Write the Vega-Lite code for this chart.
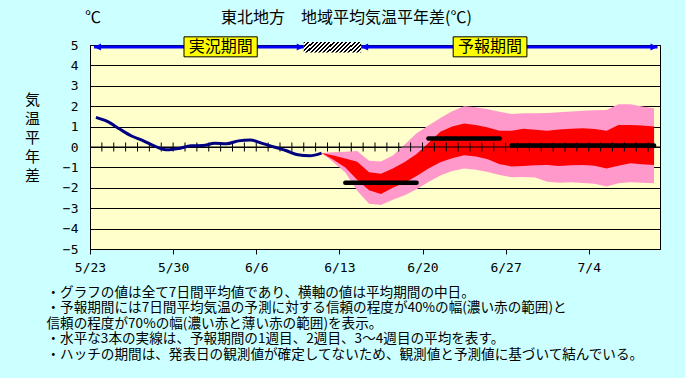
{
  "$schema": "https://vega.github.io/schema/vega-lite/v6.json",
  "width": 570,
  "height": 204,
  "autosize": {"type": "none"},
  "padding": {"left": 90, "top": 45, "right": 25, "bottom": 129},
  "background": "#CCFFFF",
  "title": {
    "text": "℃　　　　　　　\u2002東北地方　地域平均気温平年差(℃)",
    "anchor": "start",
    "frame": "group",
    "dx": -5,
    "offset": 10,
    "fontSize": 16,
    "fontWeight": "normal",
    "font": "Noto Sans CJK JP",
    "color": "#000000"
  },
  "config": {
    "font": "Noto Sans CJK JP",
    "view": {"fill": "#FFFFCC", "stroke": "#000000", "strokeWidth": 1},
    "axis": {
      "labelFont": "DejaVu Sans Mono",
      "titleFont": "Noto Sans CJK JP",
      "labelColor": "#000000",
      "titleColor": "#000000",
      "domainColor": "#000000",
      "tickColor": "#000000",
      "gridColor": "#000000",
      "gridOpacity": 1,
      "titleFontWeight": "normal",
      "labelOverlap": false
    }
  },
  "datasets": {
    "obs": [
      {"date": "2021-05-23T12:00:00Z", "value": 1.45},
      {"date": "2021-05-24T12:00:00Z", "value": 1.24},
      {"date": "2021-05-25T12:00:00Z", "value": 0.88},
      {"date": "2021-05-26T12:00:00Z", "value": 0.54},
      {"date": "2021-05-27T12:00:00Z", "value": 0.30},
      {"date": "2021-05-28T12:00:00Z", "value": 0.03},
      {"date": "2021-05-29T12:00:00Z", "value": -0.14},
      {"date": "2021-05-30T12:00:00Z", "value": -0.07},
      {"date": "2021-05-31T12:00:00Z", "value": 0.06},
      {"date": "2021-06-01T12:00:00Z", "value": 0.07},
      {"date": "2021-06-02T12:00:00Z", "value": 0.18},
      {"date": "2021-06-03T12:00:00Z", "value": 0.16},
      {"date": "2021-06-04T12:00:00Z", "value": 0.30},
      {"date": "2021-06-05T12:00:00Z", "value": 0.34},
      {"date": "2021-06-06T12:00:00Z", "value": 0.18},
      {"date": "2021-06-07T12:00:00Z", "value": 0.0},
      {"date": "2021-06-08T12:00:00Z", "value": -0.17},
      {"date": "2021-06-09T12:00:00Z", "value": -0.38},
      {"date": "2021-06-10T12:00:00Z", "value": -0.43},
      {"date": "2021-06-11T12:00:00Z", "value": -0.30}
    ],
    "band": [
      {"date": "2021-06-11T12:00:00Z", "pinkLow": -0.30, "redLow": -0.30, "redHigh": -0.30, "pinkHigh": -0.30},
      {"date": "2021-06-12T12:00:00Z", "pinkLow": -0.75, "redLow": -0.62, "redHigh": -0.42, "pinkHigh": -0.26},
      {"date": "2021-06-13T12:00:00Z", "pinkLow": -1.25, "redLow": -1.00, "redHigh": -0.56, "pinkHigh": -0.23},
      {"date": "2021-06-14T12:00:00Z", "pinkLow": -2.15, "redLow": -1.60, "redHigh": -0.72, "pinkHigh": -0.19},
      {"date": "2021-06-15T12:00:00Z", "pinkLow": -2.78, "redLow": -2.12, "redHigh": -1.24, "pinkHigh": -0.68},
      {"date": "2021-06-16T12:00:00Z", "pinkLow": -2.84, "redLow": -2.31, "redHigh": -1.31, "pinkHigh": -0.71},
      {"date": "2021-06-17T12:00:00Z", "pinkLow": -2.58, "redLow": -2.00, "redHigh": -1.05, "pinkHigh": -0.42},
      {"date": "2021-06-18T12:00:00Z", "pinkLow": -2.37, "redLow": -1.75, "redHigh": -0.73, "pinkHigh": 0.12},
      {"date": "2021-06-19T12:00:00Z", "pinkLow": -2.07, "redLow": -1.42, "redHigh": -0.34, "pinkHigh": 0.67},
      {"date": "2021-06-20T12:00:00Z", "pinkLow": -1.72, "redLow": -1.05, "redHigh": 0.20, "pinkHigh": 1.05},
      {"date": "2021-06-21T12:00:00Z", "pinkLow": -1.40, "redLow": -0.75, "redHigh": 0.75, "pinkHigh": 1.42},
      {"date": "2021-06-22T12:00:00Z", "pinkLow": -1.18, "redLow": -0.55, "redHigh": 1.00, "pinkHigh": 1.75},
      {"date": "2021-06-23T12:00:00Z", "pinkLow": -1.05, "redLow": -0.40, "redHigh": 1.15, "pinkHigh": 2.00},
      {"date": "2021-06-24T12:00:00Z", "pinkLow": -1.12, "redLow": -0.47, "redHigh": 1.08, "pinkHigh": 1.95},
      {"date": "2021-06-25T12:00:00Z", "pinkLow": -1.22, "redLow": -0.60, "redHigh": 0.95, "pinkHigh": 1.85},
      {"date": "2021-06-26T12:00:00Z", "pinkLow": -1.37, "redLow": -0.85, "redHigh": 0.80, "pinkHigh": 1.73},
      {"date": "2021-06-27T12:00:00Z", "pinkLow": -1.48, "redLow": -0.95, "redHigh": 0.80, "pinkHigh": 1.62},
      {"date": "2021-06-28T12:00:00Z", "pinkLow": -1.47, "redLow": -0.93, "redHigh": 0.90, "pinkHigh": 1.65},
      {"date": "2021-06-29T12:00:00Z", "pinkLow": -1.50, "redLow": -0.90, "redHigh": 0.85, "pinkHigh": 1.65},
      {"date": "2021-06-30T12:00:00Z", "pinkLow": -1.70, "redLow": -0.88, "redHigh": 0.80, "pinkHigh": 1.67},
      {"date": "2021-07-01T12:00:00Z", "pinkLow": -1.75, "redLow": -0.93, "redHigh": 0.86, "pinkHigh": 1.70},
      {"date": "2021-07-02T12:00:00Z", "pinkLow": -1.73, "redLow": -0.90, "redHigh": 0.90, "pinkHigh": 1.74},
      {"date": "2021-07-03T12:00:00Z", "pinkLow": -1.76, "redLow": -0.88, "redHigh": 0.92, "pinkHigh": 1.78},
      {"date": "2021-07-04T12:00:00Z", "pinkLow": -1.80, "redLow": -0.92, "redHigh": 0.88, "pinkHigh": 1.80},
      {"date": "2021-07-05T12:00:00Z", "pinkLow": -1.94, "redLow": -1.05, "redHigh": 0.80, "pinkHigh": 1.81},
      {"date": "2021-07-06T12:00:00Z", "pinkLow": -1.78, "redLow": -0.92, "redHigh": 1.08, "pinkHigh": 2.09},
      {"date": "2021-07-07T12:00:00Z", "pinkLow": -1.73, "redLow": -0.80, "redHigh": 1.08, "pinkHigh": 2.09},
      {"date": "2021-07-08T12:00:00Z", "pinkLow": -1.75, "redLow": -0.84, "redHigh": 1.05, "pinkHigh": 1.98},
      {"date": "2021-07-09T12:00:00Z", "pinkLow": -1.78, "redLow": -0.88, "redHigh": 1.00, "pinkHigh": 1.90}
    ],
    "weeks": [
      {"from": "2021-06-13T12:00:00Z", "to": "2021-06-19T12:00:00Z", "value": -1.75},
      {"from": "2021-06-20T12:00:00Z", "to": "2021-06-26T12:00:00Z", "value": 0.42},
      {"from": "2021-06-27T12:00:00Z", "to": "2021-07-09T12:00:00Z", "value": 0.07}
    ],
    "days": [
      {"date": "2021-05-24"}, {"date": "2021-05-25"}, {"date": "2021-05-26"}, {"date": "2021-05-27"},
      {"date": "2021-05-28"}, {"date": "2021-05-29"}, {"date": "2021-05-30"}, {"date": "2021-05-31"},
      {"date": "2021-06-01"}, {"date": "2021-06-02"}, {"date": "2021-06-03"}, {"date": "2021-06-04"},
      {"date": "2021-06-05"}, {"date": "2021-06-06"}, {"date": "2021-06-07"}, {"date": "2021-06-08"},
      {"date": "2021-06-09"}, {"date": "2021-06-10"}, {"date": "2021-06-11"}, {"date": "2021-06-12"},
      {"date": "2021-06-13"}, {"date": "2021-06-14"}, {"date": "2021-06-15"}, {"date": "2021-06-16"},
      {"date": "2021-06-17"}, {"date": "2021-06-18"}, {"date": "2021-06-19"}, {"date": "2021-06-20"},
      {"date": "2021-06-21"}, {"date": "2021-06-22"}, {"date": "2021-06-23"}, {"date": "2021-06-24"},
      {"date": "2021-06-25"}, {"date": "2021-06-26"}, {"date": "2021-06-27"}, {"date": "2021-06-28"},
      {"date": "2021-06-29"}, {"date": "2021-06-30"}, {"date": "2021-07-01"}, {"date": "2021-07-02"},
      {"date": "2021-07-03"}, {"date": "2021-07-04"}, {"date": "2021-07-05"}, {"date": "2021-07-06"},
      {"date": "2021-07-07"}, {"date": "2021-07-08"}, {"date": "2021-07-09"}
    ],
    "arrows": [
      {"from": "2021-05-23T08:00:00Z", "to": "2021-06-10T00:00:00Z"},
      {"from": "2021-06-14T20:00:00Z", "to": "2021-07-09T19:00:00Z"}
    ],
    "heads": [
      {"date": "2021-05-23T08:00:00Z", "dir": "left"},
      {"date": "2021-06-10T00:00:00Z", "dir": "right"},
      {"date": "2021-06-14T20:00:00Z", "dir": "left"},
      {"date": "2021-07-09T19:00:00Z", "dir": "right"}
    ],
    "hatch": [
      {"from": "2021-06-10T00:00:00Z", "to": "2021-06-14T20:00:00Z"}
    ],
    "periods": [
      {"label": "実況期間", "from": "2021-05-30T22:00:00Z", "to": "2021-06-06T02:00:00Z", "mid": "2021-06-03T00:00:00Z"},
      {"label": "予報期間", "from": "2021-06-22T14:00:00Z", "to": "2021-06-28T19:00:00Z", "mid": "2021-06-25T16:30:00Z"}
    ]
  },
  "layer": [
    {
      "data": {"name": "band"},
      "mark": {"type": "area", "color": "#FF99CC"},
      "encoding": {
        "x": {
          "field": "date",
          "type": "temporal",
          "scale": {
            "type": "utc",
            "nice": false,
            "domain": [
              {"year": 2021, "month": 5, "date": 23, "utc": true},
              {"year": 2021, "month": 7, "date": 10, "utc": true}
            ]
          },
          "axis": {
            "values": [
              {"year": 2021, "month": 5, "date": 23, "utc": true},
              {"year": 2021, "month": 5, "date": 30, "utc": true},
              {"year": 2021, "month": 6, "date": 6, "utc": true},
              {"year": 2021, "month": 6, "date": 13, "utc": true},
              {"year": 2021, "month": 6, "date": 20, "utc": true},
              {"year": 2021, "month": 6, "date": 27, "utc": true},
              {"year": 2021, "month": 7, "date": 4, "utc": true}
            ],
            "tickCount": 20,
            "format": "%-m/%-d",
            "grid": false,
            "tickSize": 5,
            "labelFontSize": 13,
            "labelPadding": 7,
            "labelDx": 5,
            "labelFlush": false,
            "title": [
              "・グラフの値は全て7日間平均値であり、横軸の値は平均期間の中日。",
              "・予報期間には7日間平均気温の予測に対する信頼の程度が40%の幅(濃い赤の範囲)と",
              "信頼の程度が70%の幅(濃い赤と薄い赤の範囲)を表示。",
              "・水平な3本の実線は、予報期間の1週目、2週目、3～4週目の平均を表す。",
              "・ハッチの期間は、発表日の観測値が確定してないため、観測値と予測値に基づいて結んでいる。"
            ],
            "titleFontSize": 13.6,
            "titleLineHeight": 15.5,
            "titleAlign": "left",
            "titleAnchor": "start",
            "titleBaseline": "top",
            "titleX": -44,
            "titleY": 36
          }
        },
        "y": {
          "field": "pinkLow",
          "type": "quantitative",
          "scale": {"domain": [-5, 5], "nice": false},
          "axis": {
            "values": [-5, -4, -3, -2, -1, 0, 1, 2, 3, 4, 5],
            "tickCount": 20,
            "format": "d",
            "grid": true,
            "ticks": false,
            "labelFontSize": 13,
            "labelPadding": 12,
            "labelOverlap": false,
            "title": ["気", "温", "平", "年", "差"],
            "titleAngle": 0,
            "titleFontSize": 15,
            "titleLineHeight": 19,
            "titleAlign": "center",
            "titleBaseline": "top",
            "titleX": -58,
            "titleY": 47
          }
        },
        "y2": {"field": "pinkHigh"}
      }
    },
    {
      "data": {"name": "band"},
      "mark": {"type": "area", "color": "#FF0000"},
      "encoding": {
        "x": {"field": "date", "type": "temporal"},
        "y": {"field": "redLow", "type": "quantitative"},
        "y2": {"field": "redHigh"}
      }
    },
    {
      "data": {"values": [{}]},
      "mark": {"type": "rule", "color": "#000000", "strokeWidth": 1},
      "encoding": {"y": {"datum": 0, "type": "quantitative"}}
    },
    {
      "data": {"name": "days"},
      "mark": {"type": "tick", "orient": "vertical", "size": 9, "thickness": 1, "color": "#000000", "opacity": 1},
      "encoding": {
        "x": {"field": "date", "type": "temporal"},
        "y": {"datum": 0, "type": "quantitative"}
      }
    },
    {
      "data": {"name": "obs"},
      "mark": {"type": "line", "color": "#000080", "strokeWidth": 3, "interpolate": "monotone"},
      "encoding": {
        "x": {"field": "date", "type": "temporal"},
        "y": {"field": "value", "type": "quantitative"}
      }
    },
    {
      "data": {"name": "weeks"},
      "mark": {"type": "rule", "color": "#000000", "strokeWidth": 4.5, "strokeCap": "round"},
      "encoding": {
        "x": {"field": "from", "type": "temporal"},
        "x2": {"field": "to"},
        "y": {"field": "value", "type": "quantitative"}
      }
    },
    {
      "data": {"name": "arrows"},
      "mark": {"type": "rule", "color": "#0000FF", "strokeWidth": 3},
      "encoding": {
        "x": {"field": "from", "type": "temporal"},
        "x2": {"field": "to"},
        "y": {"datum": 4.9, "type": "quantitative"}
      }
    },
    {
      "data": {"name": "heads"},
      "mark": {"type": "point", "filled": true, "color": "#0000FF", "opacity": 1, "size": 196},
      "encoding": {
        "x": {"field": "date", "type": "temporal"},
        "y": {"datum": 4.9, "type": "quantitative"},
        "shape": {
          "field": "dir",
          "type": "nominal",
          "scale": {"domain": ["left", "right"], "range": ["M0,0L1,-0.5L1,0.5Z", "M0,0L-1,-0.5L-1,0.5Z"]},
          "legend": null
        }
      }
    },
    {
      "data": {"name": "hatch"},
      "mark": {
        "type": "rect",
        "fill": {
          "gradient": "linear",
          "x1": 0, "y1": 0, "x2": 1.2, "y2": 0.232,
          "stops": [
            {"offset": 0, "color": "#000000"}, {"offset": 0.0294, "color": "#000000"}, {"offset": 0.0294, "color": "#FFFFFF"}, {"offset": 0.0588, "color": "#FFFFFF"},
            {"offset": 0.0588, "color": "#000000"}, {"offset": 0.0882, "color": "#000000"}, {"offset": 0.0882, "color": "#FFFFFF"}, {"offset": 0.1176, "color": "#FFFFFF"},
            {"offset": 0.1176, "color": "#000000"}, {"offset": 0.1471, "color": "#000000"}, {"offset": 0.1471, "color": "#FFFFFF"}, {"offset": 0.1765, "color": "#FFFFFF"},
            {"offset": 0.1765, "color": "#000000"}, {"offset": 0.2059, "color": "#000000"}, {"offset": 0.2059, "color": "#FFFFFF"}, {"offset": 0.2353, "color": "#FFFFFF"},
            {"offset": 0.2353, "color": "#000000"}, {"offset": 0.2647, "color": "#000000"}, {"offset": 0.2647, "color": "#FFFFFF"}, {"offset": 0.2941, "color": "#FFFFFF"},
            {"offset": 0.2941, "color": "#000000"}, {"offset": 0.3235, "color": "#000000"}, {"offset": 0.3235, "color": "#FFFFFF"}, {"offset": 0.3529, "color": "#FFFFFF"},
            {"offset": 0.3529, "color": "#000000"}, {"offset": 0.3824, "color": "#000000"}, {"offset": 0.3824, "color": "#FFFFFF"}, {"offset": 0.4118, "color": "#FFFFFF"},
            {"offset": 0.4118, "color": "#000000"}, {"offset": 0.4412, "color": "#000000"}, {"offset": 0.4412, "color": "#FFFFFF"}, {"offset": 0.4706, "color": "#FFFFFF"},
            {"offset": 0.4706, "color": "#000000"}, {"offset": 0.5, "color": "#000000"}, {"offset": 0.5, "color": "#FFFFFF"}, {"offset": 0.5294, "color": "#FFFFFF"},
            {"offset": 0.5294, "color": "#000000"}, {"offset": 0.5588, "color": "#000000"}, {"offset": 0.5588, "color": "#FFFFFF"}, {"offset": 0.5882, "color": "#FFFFFF"},
            {"offset": 0.5882, "color": "#000000"}, {"offset": 0.6176, "color": "#000000"}, {"offset": 0.6176, "color": "#FFFFFF"}, {"offset": 0.6471, "color": "#FFFFFF"},
            {"offset": 0.6471, "color": "#000000"}, {"offset": 0.6765, "color": "#000000"}, {"offset": 0.6765, "color": "#FFFFFF"}, {"offset": 0.7059, "color": "#FFFFFF"},
            {"offset": 0.7059, "color": "#000000"}, {"offset": 0.7353, "color": "#000000"}, {"offset": 0.7353, "color": "#FFFFFF"}, {"offset": 0.7647, "color": "#FFFFFF"},
            {"offset": 0.7647, "color": "#000000"}, {"offset": 0.7941, "color": "#000000"}, {"offset": 0.7941, "color": "#FFFFFF"}, {"offset": 0.8235, "color": "#FFFFFF"},
            {"offset": 0.8235, "color": "#000000"}, {"offset": 0.8529, "color": "#000000"}, {"offset": 0.8529, "color": "#FFFFFF"}, {"offset": 0.8824, "color": "#FFFFFF"},
            {"offset": 0.8824, "color": "#000000"}, {"offset": 0.9118, "color": "#000000"}, {"offset": 0.9118, "color": "#FFFFFF"}, {"offset": 0.9412, "color": "#FFFFFF"},
            {"offset": 0.9412, "color": "#000000"}, {"offset": 0.9706, "color": "#000000"}, {"offset": 0.9706, "color": "#FFFFFF"}, {"offset": 1, "color": "#FFFFFF"}
          ]
        }
      },
      "encoding": {
        "x": {"field": "from", "type": "temporal"},
        "x2": {"field": "to"},
        "y": {"datum": 5.15, "type": "quantitative"},
        "y2": {"datum": 4.63}
      }
    },
    {
      "data": {"name": "periods"},
      "mark": {"type": "rect", "fill": "#FFFF00", "stroke": "#000000", "strokeWidth": 1},
      "encoding": {
        "x": {"field": "from", "type": "temporal"},
        "x2": {"field": "to"},
        "y": {"datum": 5.4, "type": "quantitative"},
        "y2": {"datum": 4.42}
      }
    },
    {
      "data": {"name": "periods"},
      "mark": {"type": "text", "fontSize": 16, "color": "#000000", "baseline": "middle", "align": "center", "font": "Noto Sans CJK JP"},
      "encoding": {
        "x": {"field": "mid", "type": "temporal"},
        "y": {"datum": 4.9, "type": "quantitative"},
        "text": {"field": "label"}
      }
    }
  ]
}
